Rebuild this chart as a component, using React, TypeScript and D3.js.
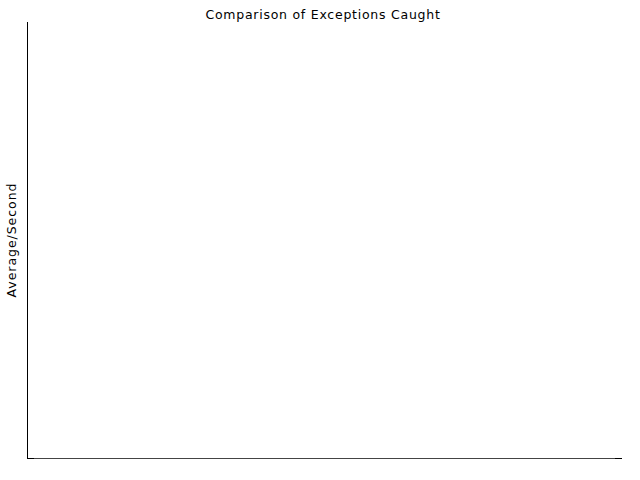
import React from "react";
import * as d3 from "d3";

const title = "Comparison of Exceptions Caught";
const yAxisLabel = "Average/Second";
const categories: string[] = [];
const seriesValues: number[] = [];

export default function App() {
  const width = 640;
  const height = 480;
  const margin = { left: 27, right: 18, top: 22, bottom: 22 };
  const x = d3
    .scaleBand<string>()
    .domain(categories)
    .range([margin.left, width - margin.right]);
  const y = d3
    .scaleLinear()
    .domain([0, d3.max(seriesValues) ?? 1])
    .range([height - margin.bottom, margin.top]);
  const [x0, x1] = x.range();
  const [yb, yt] = y.range();
  return (
    <svg
      width={width}
      height={height}
      style={{ position: "absolute", left: 0, top: 0, background: "#fff" }}
      fontFamily="DejaVu Sans"
    >
      <rect width={width} height={height} fill="#fff" />
      <text x={323} y={19} textAnchor="middle" fontSize={12.5} letterSpacing={0.75} fill="#000">
        {title}
      </text>
      <text
        transform={`translate(16,${(yb + yt) / 2}) rotate(-90)`}
        textAnchor="middle"
        fontSize={12.5}
        letterSpacing={0.95}
        fill="#000"
      >
        {yAxisLabel}
      </text>
      {seriesValues.map((v, i) => (
        <rect
          key={i}
          x={x(categories[i]) ?? 0}
          y={y(v)}
          width={x.bandwidth()}
          height={yb - y(v)}
          fill="#4472c4"
        />
      ))}
      <line x1={x0} x2={x1 - 7} y1={yb + 0.5} y2={yb + 0.5} stroke="#444" strokeWidth={1} />
      <line x1={x0} x2={x0 + 7} y1={yb + 0.5} y2={yb + 0.5} stroke="#000" strokeWidth={1} />
      <line x1={x1 - 7} x2={x1} y1={yb + 0.5} y2={yb + 0.5} stroke="#000" strokeWidth={1} />
      <line x1={x0 + 0.5} x2={x0 + 0.5} y1={yt} y2={yb + 1} stroke="#000" strokeWidth={1} />
    </svg>
  );
}
